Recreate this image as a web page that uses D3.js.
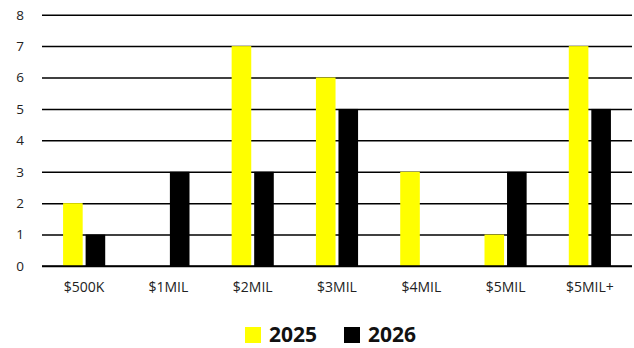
<!DOCTYPE html>
<html lang="en">
  <head>
    <meta charset="UTF-8" />
    <title>2025 vs 2026</title>
    <script src="https://cdn.jsdelivr.net/npm/d3@7"></script>
    <style>
      body { margin: 0; background: #fff; }
      text { font-family: 'Open Sans', sans-serif; }
    </style>
  </head>
  <body>
    <div id='app'></div>
    <script>
  const categories = ['$500K', '$1MIL', '$2MIL', '$3MIL', '$4MIL', '$5MIL', '$5MIL+']
  const series = ['2025', '2026']
  const values2025 = [2, 0, 7, 6, 3, 1, 7]
  const values2026 = [1, 3, 3, 5, 0, 3, 5]
  const yTicks = [0, 1, 2, 3, 4, 5, 6, 7, 8]
  const colors = ['#ffff00', '#000000']

  const width = 634
  const height = 348
  const margin = {left: 42, right: 2, top: 14.7, bottom: 82}

  const svg = d3.select('#app').append('svg')
    .attr('width', width)
    .attr('height', height)

  const x = d3.scaleBand()
    .domain(categories)
    .range([margin.left, width - margin.right])
    .paddingInner(0.5)
    .paddingOuter(0.25)

  const xs = d3.scaleBand()
    .domain(series)
    .range([0, x.bandwidth()])
    .paddingInner(0.13)

  const y = d3.scaleLinear()
    .domain([0, 8])
    .range([height - margin.bottom, margin.top])

  // gridlines + y labels
  const yAxis = svg.append('g')
    .attr('transform', `translate(${margin.left},0)`)
    .call(d3.axisLeft(y).tickValues(yTicks).tickSize(-(width - margin.left - margin.right)).tickPadding(22))
  yAxis.select('.domain').remove()
  yAxis.selectAll('line').attr('stroke', '#000').attr('stroke-width', 1.5)
  yAxis.selectAll('text').attr('font-size', 13.5).attr('fill', '#222').attr('text-anchor', 'middle')

  const data = categories.map((c, i) => ({cat: c, vals: [values2025[i], values2026[i]]}))

  const groups = svg.append('g').selectAll('g')
    .data(data)
    .join('g')
    .attr('transform', d => `translate(${x(d.cat)},0)`)

  groups.selectAll('rect')
    .data(d => d.vals.map((v, j) => ({s: series[j], v, c: colors[j]})))
    .join('rect')
    .attr('x', d => xs(d.s))
    .attr('width', xs.bandwidth())
    .attr('y', d => y(d.v))
    .attr('height', d => y(0) - y(d.v))
    .attr('fill', d => d.c)

  // baseline on top of bars
  svg.append('line')
    .attr('x1', margin.left).attr('x2', width - margin.right)
    .attr('y1', y(0)).attr('y2', y(0))
    .attr('stroke', '#000').attr('stroke-width', 1.5)

  // x labels
  const xAxis = svg.append('g')
    .attr('transform', `translate(0,${y(0)})`)
    .call(d3.axisBottom(x).tickSize(0).tickPadding(16))
  xAxis.select('.domain').remove()
  xAxis.selectAll('text').attr('font-size', 14).attr('fill', '#222')

  // legend
  const legend = svg.append('g').attr('transform', 'translate(245,325)')
  const items = legend.selectAll('g')
    .data(series)
    .join('g')
    .attr('transform', (d, i) => `translate(${i * 99},0)`)
  items.append('rect')
    .attr('y', 2)
    .attr('width', 16).attr('height', 16)
    .attr('fill', (d, i) => colors[i])
  items.append('text')
    .attr('x', 24).attr('y', 16.5)
    .attr('font-size', 21).attr('font-weight', 'bold')
    .attr('fill', '#111')
    .text(d => d)
    </script>
  </body>
</html>
